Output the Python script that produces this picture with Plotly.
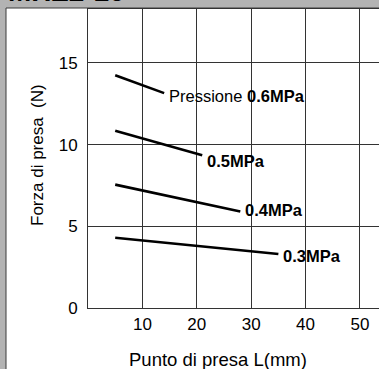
import plotly.graph_objects as go

# Data
x_start = [5, 5, 5, 5]
x_end = [14, 21, 28, 35]
pressures = ["0.6MPa", "0.5MPa", "0.4MPa", "0.3MPa"]
force_start = [14.25, 10.85, 7.55, 4.3]
force_end = [13.15, 9.35, 5.9, 3.3]
x_ticks = [10, 20, 30, 40, 50]
y_ticks = [0, 5, 10, 15]

FONT = "Liberation Sans, Arial, sans-serif"

fig = go.Figure()
for i, p in enumerate(pressures):
    fig.add_trace(go.Scatter(
        x=[x_start[i], x_end[i]], y=[force_start[i], force_end[i]],
        mode="lines", line=dict(color="black", width=2.6),
        showlegend=False, hoverinfo="skip"))

label_yshift = [-3, -6, 2, -2]
for i, p in enumerate(pressures):
    txt = ("Pressione <b>%s</b>" % p) if i == 0 else "<b>%s</b>" % p
    fig.add_annotation(x=x_end[i], y=force_end[i], text=txt, showarrow=False,
                       xanchor="left", yanchor="middle", xshift=3,
                       yshift=label_yshift[i],
                       font=dict(family=FONT, size=16.5, color="black"))

# axis titles
fig.add_annotation(xref="paper", yref="paper", x=(217.5 - 88) / 291, y=-(360 - 308) / 299,
                   text="Punto di presa L(mm)", showarrow=False,
                   xanchor="center", yanchor="middle",
                   font=dict(family=FONT, size=18.5, color="black"))
fig.add_annotation(xref="paper", yref="paper", x=-(88 - 37) / 291, y=(308 - 155) / 299,
                   text="Forza di presa  (N)", showarrow=False, textangle=-90,
                   xanchor="center", yanchor="middle",
                   font=dict(family=FONT, size=17, color="black"))
# clipped header title (only its lower edge is visible, as in the source)
fig.add_annotation(xref="paper", yref="paper", x=-(88 - 6) / 291, y=1.0,
                   text="<b>MHZ2-16</b>", showarrow=False,
                   xanchor="left", yanchor="bottom",
                   font=dict(family=FONT, size=28, color="black"))

# white panel with dark edge
fig.add_shape(type="rect", xref="paper", yref="paper",
              x0=-(88 - 6) / 291, x1=1.2, y0=-0.5, y1=1 + (9 - 8) / 299,
              fillcolor="white", line=dict(color="#3a3a3a", width=1), layer="below")

fig.update_layout(
    width=379, height=369,
    margin=dict(l=88, r=0, t=9, b=61),
    paper_bgcolor="#b3b3b3",
    plot_bgcolor="#e5e5e5",
    font=dict(family=FONT, size=17, color="black"),
    xaxis=dict(range=[0, 53.5], tickvals=x_ticks, showgrid=True, gridcolor="#333333",
               gridwidth=1, zeroline=False, showline=True, mirror=True,
               linecolor="#333333", linewidth=1, ticks="outside", ticklen=1,
               tickcolor="rgba(0,0,0,0)", tickfont=dict(size=17)),
    yaxis=dict(range=[0, 18.3], tickvals=y_ticks, showgrid=True, gridcolor="#333333",
               gridwidth=1, zeroline=False, showline=True, mirror=False,
               linecolor="#333333", linewidth=1, ticks="outside", ticklen=6,
               tickcolor="rgba(0,0,0,0)", tickfont=dict(size=17)),
)

fig.write_html("out.html", config={"displayModeBar": False},
               post_script="document.body.style.margin='0';document.body.style.overflow='hidden';")
